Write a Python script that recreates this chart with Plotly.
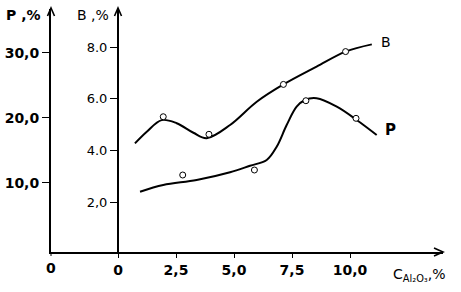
import plotly.graph_objects as go

# ---- data ----
# curve B (smoothed line), x = C_Al2O3 %, y = B %
b_curve_x = [0.73, 1.24, 1.88, 2.53, 3.25, 3.82, 4.83, 5.98, 7.13, 8.56, 9.81, 10.94]
b_curve_y = [4.28, 4.73, 5.18, 5.06, 4.69, 4.48, 4.99, 5.89, 6.56, 7.25, 7.83, 8.11]
# measured points B
b_pts_x = [1.95, 3.92, 7.13, 9.81]
b_pts_y = [5.31, 4.63, 6.56, 7.83]

# curve P (smoothed line), y = P %
p_curve_x = [0.95, 1.95, 3.39, 4.83, 5.69, 6.41, 6.84, 7.27, 7.70, 8.06, 8.56, 9.43, 10.29, 11.15]
p_curve_y = [8.61, 9.64, 10.41, 11.60, 12.61, 13.49, 15.53, 18.87, 21.69, 22.72, 22.98, 21.69, 19.64, 17.33]
# measured points P
p_pts_x = [2.79, 5.88, 8.10, 10.26]
p_pts_y = [11.18, 11.95, 22.61, 19.90]

x_tickvals = [0, 2.5, 5, 7.5, 10]
x_ticktext = ["0", "2,5", "5,0", "7,5", "10,0"]
b_tickvals = [2, 4, 6, 8]
b_ticktext = ["2,0", "4.0", "6.0", "8.0"]
p_tickvals = [10, 20, 30]
p_ticktext = ["10,0", "20,0", "30,0"]

# ---- layout geometry (pixels) ----
W, H = 461, 292
ML, MR, MT, MB = 51, 18, 9, 40
PW = W - ML - MR
PH = H - MT - MB


def fx(px):
    return (px - ML) / PW


def fy(py):
    return (H - MB - py) / PH


FONT = "DejaVu Sans"
BLACK = "#000000"

fig = go.Figure()

fig.add_trace(go.Scatter(x=b_curve_x, y=b_curve_y, mode="lines",
                         line=dict(color=BLACK, width=2, shape="spline", smoothing=1.0),
                         yaxis="y", hoverinfo="skip"))
fig.add_trace(go.Scatter(x=b_pts_x, y=b_pts_y, mode="markers",
                         marker=dict(symbol="circle", size=6, color="white",
                                     line=dict(color=BLACK, width=1)),
                         yaxis="y"))
fig.add_trace(go.Scatter(x=p_curve_x, y=p_curve_y, mode="lines",
                         line=dict(color=BLACK, width=2, shape="spline", smoothing=1.0),
                         yaxis="y2", hoverinfo="skip"))
fig.add_trace(go.Scatter(x=p_pts_x, y=p_pts_y, mode="markers",
                         marker=dict(symbol="circle", size=6, color="white",
                                     line=dict(color=BLACK, width=1)),
                         yaxis="y2"))

b_axis_px = 118
fig.update_layout(
    width=W, height=H,
    margin=dict(l=ML, r=MR, t=MT, b=MB, pad=0, autoexpand=False),
    paper_bgcolor="white", plot_bgcolor="white",
    showlegend=False,
    font=dict(family=FONT, color=BLACK),
    xaxis=dict(range=[(ML - b_axis_px) / 23.2, (W - MR - b_axis_px) / 23.2],
               domain=[0, 1], anchor="y2", automargin=False,
               showline=True, linecolor=BLACK, linewidth=2,
               showgrid=False, zeroline=False,
               tickvals=x_tickvals, ticktext=x_ticktext,
               ticks="outside", ticklen=4, tickwidth=1, tickcolor=BLACK,
               tickfont=dict(family=FONT, size=14, weight="bold", color=BLACK)),
    yaxis=dict(range=[(254 - (H - MB)) / 25.85, (254 - MT) / 25.85],
               anchor="free", position=fx(b_axis_px), side="left", automargin=False,
               showline=True, linecolor=BLACK, linewidth=2,
               showgrid=False, zeroline=False,
               tickvals=b_tickvals, ticktext=b_ticktext,
               ticks="outside", ticklen=7, tickwidth=1, tickcolor=BLACK,
               tickfont=dict(family=FONT, size=13, color=BLACK)),
    yaxis2=dict(range=[20 - ((H - MB) - 117.67) / 6.5, 20 + (117.67 - MT) / 6.5],
                overlaying="y", anchor="x", side="left", automargin=False,
                showline=True, linecolor=BLACK, linewidth=2,
                showgrid=False, zeroline=False,
                tickvals=p_tickvals, ticktext=p_ticktext,
                ticks="outside", ticklen=7, tickwidth=1, tickcolor=BLACK,
                tickfont=dict(family=FONT, size=14, weight="bold", color=BLACK)),
)

# arrowheads on the axes
def arrow_path(points):
    return "M " + " L ".join(f"{fx(a)},{fy(b)}" for a, b in points)

arrows = [
    [(47.5, 16), (51, 8), (54.5, 16)],
    [(114.5, 16), (118, 8), (121.5, 16)],
    [(434, 248), (443, 252), (434, 256)],
]
for pts in arrows:
    fig.add_shape(type="path", path=arrow_path(pts), xref="paper", yref="paper",
                  line=dict(color=BLACK, width=1.6))

# small tick below the P axis and its "0"
fig.add_shape(type="line", xref="paper", yref="paper",
              x0=fx(51), x1=fx(51), y0=fy(252), y1=fy(256),
              line=dict(color=BLACK, width=1))

ann = [
    dict(text="P ,%", x=fx(4), y=fy(15), xanchor="left", size=14, bold=True),
    dict(text="B ,%", x=fx(75), y=fy(15), xanchor="left", size=14, bold=False),
    dict(text="0", x=fx(51), y=fy(268), xanchor="center", size=14, bold=True),
    dict(text="B", x=fx(386), y=fy(42), xanchor="center", size=14, bold=False),
    dict(text="P", x=fx(390), y=fy(130), xanchor="center", size=15, bold=True),
    dict(text="C<sub>Al₂O₃</sub>,%", x=fx(391), y=fy(275), xanchor="left", size=14, bold=False),
]
for a in ann:
    fig.add_annotation(text=a["text"], x=a["x"], y=a["y"], xref="paper", yref="paper",
                       xanchor=a["xanchor"], yanchor="middle", showarrow=False,
                       font=dict(family=FONT, size=a["size"], color=BLACK,
                                 weight="bold" if a["bold"] else "normal"))

fig.write_html("out.html", config={"displayModeBar": False},
               post_script="document.body.style.margin='0';")
